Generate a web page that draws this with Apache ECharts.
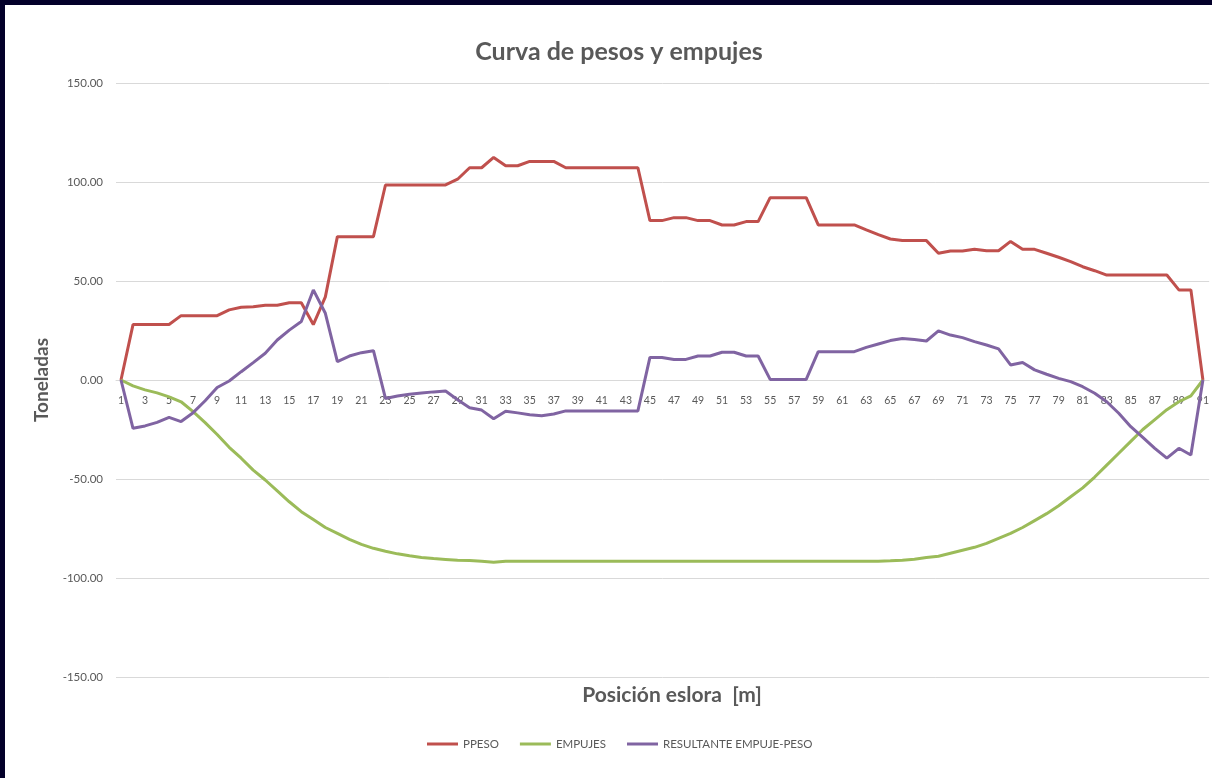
<!DOCTYPE html>
<html>
<head>
<meta charset="utf-8">
<title>Curva de pesos y empujes</title>
<script src="https://cdn.jsdelivr.net/npm/echarts@6/dist/echarts.min.js"></script>
<style>
  html, body { margin: 0; padding: 0; background: #03002a; width: 1212px; height: 778px; overflow: hidden; }
  #chart { position: absolute; left: 5px; top: 5px; width: 1207px; height: 773px; background: #ffffff; }
</style>
</head>
<body>
<div id="chart"></div>
<script>
// Stations along the hull (metres)
const posiciones = [
  1, 2, 3, 4, 5, 6, 7, 8, 9, 10, 11, 12, 13, 14, 15, 16, 17, 18, 19, 20,
  21, 22, 23, 24, 25, 26, 27, 28, 29, 30, 31, 32, 33, 34, 35, 36, 37, 38, 39, 40,
  41, 42, 43, 44, 45, 46, 47, 48, 49, 50, 51, 52, 53, 54, 55, 56, 57, 58, 59, 60,
  61, 62, 63, 64, 65, 66, 67, 68, 69, 70, 71, 72, 73, 74, 75, 76, 77, 78, 79, 80,
  81, 82, 83, 84, 85, 86, 87, 88, 89, 90, 91
];

// Weight per station (t)
const peso = [
  0, 28, 28, 28, 28, 32.5, 32.5, 32.5, 32.5, 35.4,
  36.7, 37, 37.8, 37.8, 39, 39, 28, 42, 72.4, 72.4,
  72.4, 72.4, 98.5, 98.5, 98.5, 98.5, 98.5, 98.5, 101.4, 107.2,
  107.2, 112.4, 108.2, 108.2, 110.4, 110.4, 110.4, 107.2, 107.2, 107.2,
  107.2, 107.2, 107.2, 107.2, 80.5, 80.5, 82, 82, 80.5, 80.5,
  78.3, 78.3, 80, 80, 92.1, 92.1, 92.1, 92.1, 78.3, 78.3,
  78.3, 78.3, 75.8, 73.4, 71.2, 70.4, 70.4, 70.4, 64, 65.2,
  65.2, 66, 65.3, 65.3, 70, 66, 66, 64, 62, 59.8,
  57.2, 55.2, 53, 53, 53, 53, 53, 53, 45.5, 45.5,
  0
];

// Buoyancy per station (t)
const empuje = [
  0, -3, -5, -6.5, -8.5, -11, -16, -21.5, -27.5, -34,
  -39.5, -45.5, -50.5, -56, -61.5, -66.5, -70.5, -74.5, -77.5, -80.5,
  -83, -85, -86.5, -87.8, -88.8, -89.6, -90.2, -90.6, -91, -91.2,
  -91.5, -92, -91.5, -91.5, -91.5, -91.5, -91.5, -91.5, -91.5, -91.5,
  -91.5, -91.5, -91.5, -91.5, -91.5, -91.5, -91.5, -91.5, -91.5, -91.5,
  -91.5, -91.5, -91.5, -91.5, -91.5, -91.5, -91.5, -91.5, -91.5, -91.5,
  -91.5, -91.5, -91.5, -91.5, -91.3, -91, -90.5, -89.7, -89, -87.5,
  -86, -84.5, -82.5, -80, -77.5, -74.5, -71, -67.5, -63.5, -59,
  -54.5, -49, -43, -37, -31, -25, -20, -15, -11, -8,
  0
];

// Net load, buoyancy minus weight (t)
const resultante = [
  0, -24.4, -23.2, -21.4, -18.9, -21, -16.5, -10.5, -3.8, -0.5,
  4.2, 8.8, 13.5, 20.2, 25.2, 29.5, 45.5, 33.7, 9.3, 12.1,
  13.8, 14.8, -9.3, -8.1, -7.2, -6.6, -6, -5.6, -10, -14,
  -15.2, -19.6, -15.8, -16.6, -17.6, -18, -17.2, -15.6, -15.6, -15.6,
  -15.6, -15.6, -15.6, -15.6, 11.4, 11.4, 10.4, 10.4, 12.1, 12.1,
  14, 14, 12.1, 12.1, 0.3, 0.3, 0.3, 0.3, 14.3, 14.3,
  14.3, 14.3, 16.5, 18.2, 19.9, 21, 20.5, 19.7, 24.8, 22.7,
  21.4, 19.4, 17.7, 15.7, 7.6, 8.8, 5.1, 2.9, 0.8, -0.8,
  -3.4, -6.7, -11, -16.8, -23.6, -29, -34.5, -39.5, -34.5, -37.9,
  0
];

// Stations that carry a label on the horizontal axis
const etiquetasX = [
  1, 3, 5, 7, 9, 11, 13, 15, 17, 19, 21, 23, 25, 27, 29, 31, 33, 35, 37, 39,
  41, 43, 45, 47, 49, 51, 53, 55, 57, 59, 61, 63, 65, 67, 69, 71, 73, 75, 77, 79,
  81, 83, 85, 87, 89, 91
];

const nombres = ['PPESO', 'EMPUJES', 'RESULTANTE EMPUJE-PESO'];
const colores = ['#c0504d', '#9bbb59', '#8064a2'];
const series = [peso, empuje, resultante];

const gris = '#595959';
const fuente = 'Lato, "Liberation Sans", sans-serif';

// plot area (px inside the chart div)
const gridTop = 78;
const gridHeight = 594;

const chart = echarts.init(document.getElementById('chart'), null, { renderer: 'canvas' });

chart.setOption({
  animation: false,
  backgroundColor: '#ffffff',
  title: [
    {
      text: 'Curva de pesos y empujes',
      left: 609,
      top: 29,
      textAlign: 'center',
      textStyle: { color: gris, fontSize: 25, fontWeight: 'bold', fontFamily: fuente }
    },
    {
      text: 'Posición eslora  [m]',
      left: 662,
      top: 675,
      textAlign: 'center',
      textStyle: { color: gris, fontSize: 21, fontWeight: 'bold', fontFamily: fuente }
    }
  ],
  legend: {
    left: 417,
    top: 728,
    icon: 'rect',
    itemWidth: 31,
    itemHeight: 3,
    itemGap: 21,
    textStyle: { color: gris, fontSize: 11.5, fontFamily: fuente },
    data: nombres
  },
  grid: { left: 111, right: 0, top: gridTop, height: gridHeight, containLabel: false },
  xAxis: {
    type: 'value',
    min: 0.585,
    max: 91.52,
    position: 'bottom',
    // the station axis crosses the vertical axis at 0 t (middle of the plot)
    offset: -gridHeight / 2,
    axisLine: { show: true, onZero: false, lineStyle: { color: '#d9d9d9', width: 1 } },
    axisTick: { show: false },
    splitLine: { show: false },
    axisLabel: {
      customValues: etiquetasX,
      formatter: v => String(v),
      color: gris,
      fontSize: 10.5,
      fontFamily: fuente,
      margin: 15
    }
  },
  yAxis: {
    type: 'value',
    min: -150,
    max: 150,
    interval: 50,
    name: 'Toneladas',
    nameLocation: 'middle',
    nameRotate: 90,
    nameGap: 62,
    nameTextStyle: { color: gris, fontSize: 19, fontWeight: 'bold', fontFamily: fuente },
    axisLine: { show: false },
    axisTick: { show: false },
    splitLine: { lineStyle: { color: '#d9d9d9', width: 1 } },
    axisLabel: {
      formatter: v => v.toFixed(2),
      color: gris,
      fontSize: 11.5,
      fontFamily: fuente,
      margin: 13
    }
  },
  series: series.map((valores, s) => ({
    name: nombres[s],
    type: 'line',
    symbol: 'none',
    color: colores[s],
    lineStyle: { color: colores[s], width: 3 },
    data: posiciones.map((p, k) => [p, valores[k]])
  }))
});
</script>
</body>
</html>
